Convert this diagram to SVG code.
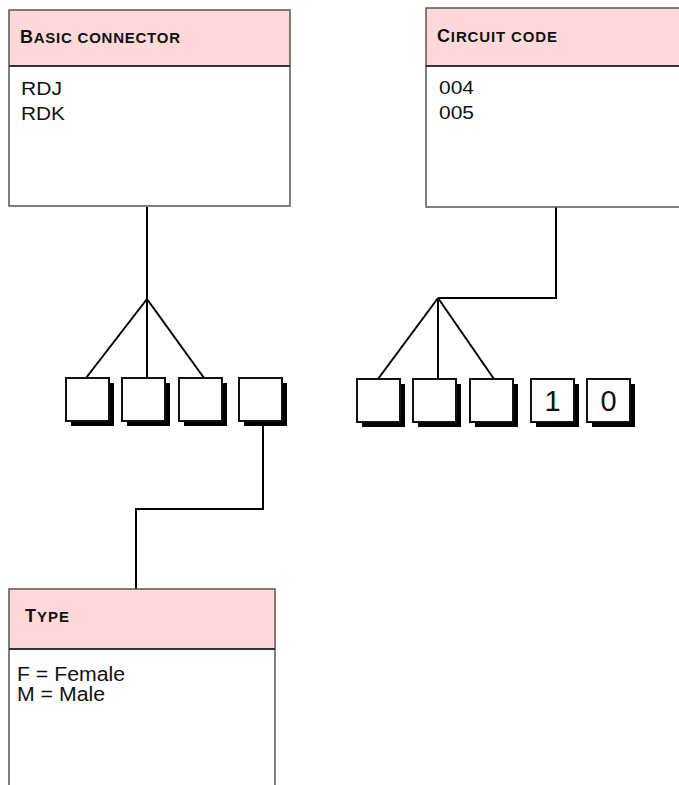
<svg xmlns="http://www.w3.org/2000/svg" width="679" height="785" viewBox="0 0 679 785">
<style>
.hdr{fill:#FFD9D9;stroke:none}
.body{fill:#fff;stroke:none}
.frame{fill:none;stroke:#555;stroke-width:1.5}
.div{stroke:#333;stroke-width:2}
.ht{font-family:"Liberation Sans",Arial,sans-serif;font-weight:bold;fill:#111}
.bt{font-family:"Liberation Sans",Arial,sans-serif;fill:#111}
.sq{fill:#fff;stroke:#111;stroke-width:2}
.sh{fill:#000}
.con{fill:none;stroke:#000;stroke-width:2}
.dig{font-family:"Liberation Sans",Arial,sans-serif;font-size:29px;fill:#111;text-anchor:middle}
</style>
<defs>
<g id="sqr"><rect class="sh" x="5" y="5" width="43" height="43"/><rect class="sq" x="0" y="0" width="43" height="43"/></g>
</defs>

<g id="connectors">
<polyline class="con" points="147,207 147,299"/>
<line class="con" x1="147" y1="299" x2="86" y2="378"/>
<line class="con" x1="147" y1="299" x2="147" y2="378"/>
<line class="con" x1="147" y1="299" x2="204" y2="378"/>
<polyline class="con" points="556,207 556,298 438,298"/>
<line class="con" x1="438" y1="298" x2="378" y2="379"/>
<line class="con" x1="438" y1="298" x2="438" y2="379"/>
<line class="con" x1="438" y1="298" x2="494" y2="379"/>
<polyline class="con" points="263,421 263,509 136,509 136,589"/>
</g>

<g id="basic-connector">
<rect class="hdr" x="9" y="10" width="281" height="56"/>
<rect class="body" x="9" y="66" width="281" height="140"/>
<rect class="frame" x="9" y="10" width="281" height="196"/>
<line class="div" x1="9" y1="66" x2="290" y2="66"/>
<text class="ht" x="20" y="43" textLength="160" lengthAdjust="spacing"><tspan font-size="18">B</tspan><tspan font-size="15">ASIC CONNECTOR</tspan></text>
<text class="bt" font-size="19" x="21" y="95" textLength="41" lengthAdjust="spacingAndGlyphs">RDJ</text>
<text class="bt" font-size="19" x="21" y="120" textLength="44" lengthAdjust="spacingAndGlyphs">RDK</text>
</g>

<g id="circuit-code">
<rect class="hdr" x="426" y="8" width="260" height="58"/>
<rect class="body" x="426" y="66" width="260" height="141"/>
<rect class="frame" x="426" y="8" width="260" height="199"/>
<line class="div" x1="426" y1="66" x2="686" y2="66"/>
<text class="ht" x="437" y="42" textLength="120" lengthAdjust="spacing"><tspan font-size="18">C</tspan><tspan font-size="15">IRCUIT CODE</tspan></text>
<text class="bt" font-size="19" x="439" y="94" textLength="35" lengthAdjust="spacingAndGlyphs">004</text>
<text class="bt" font-size="19" x="439" y="119" textLength="35" lengthAdjust="spacingAndGlyphs">005</text>
</g>

<g id="type">
<rect class="hdr" x="9" y="589" width="266" height="60"/>
<rect class="body" x="9" y="649" width="266" height="150"/>
<rect class="frame" x="9" y="589" width="266" height="210"/>
<line class="div" x1="9" y1="649" x2="275" y2="649"/>
<text class="ht" x="25" y="622" textLength="44" lengthAdjust="spacing"><tspan font-size="18">T</tspan><tspan font-size="15">YPE</tspan></text>
<text class="bt" font-size="20" x="17" y="681" textLength="108" lengthAdjust="spacingAndGlyphs">F = Female</text>
<text class="bt" font-size="20" x="17" y="701" textLength="88" lengthAdjust="spacingAndGlyphs">M = Male</text>
</g>

<g id="sq-l1"><use href="#sqr" x="66" y="378"/></g>
<g id="sq-l2"><use href="#sqr" x="122" y="378"/></g>
<g id="sq-l3"><use href="#sqr" x="179" y="378"/></g>
<g id="sq-l4"><use href="#sqr" x="239" y="378"/></g>
<g id="sq-r1"><use href="#sqr" x="357" y="379"/></g>
<g id="sq-r2"><use href="#sqr" x="413" y="379"/></g>
<g id="sq-r3"><use href="#sqr" x="470" y="379"/></g>
<g id="sq-r4"><use href="#sqr" x="531" y="379"/><text class="dig" x="552.5" y="411">1</text></g>
<g id="sq-r5"><use href="#sqr" x="587" y="379"/><text class="dig" x="608.5" y="411">0</text></g>
</svg>
